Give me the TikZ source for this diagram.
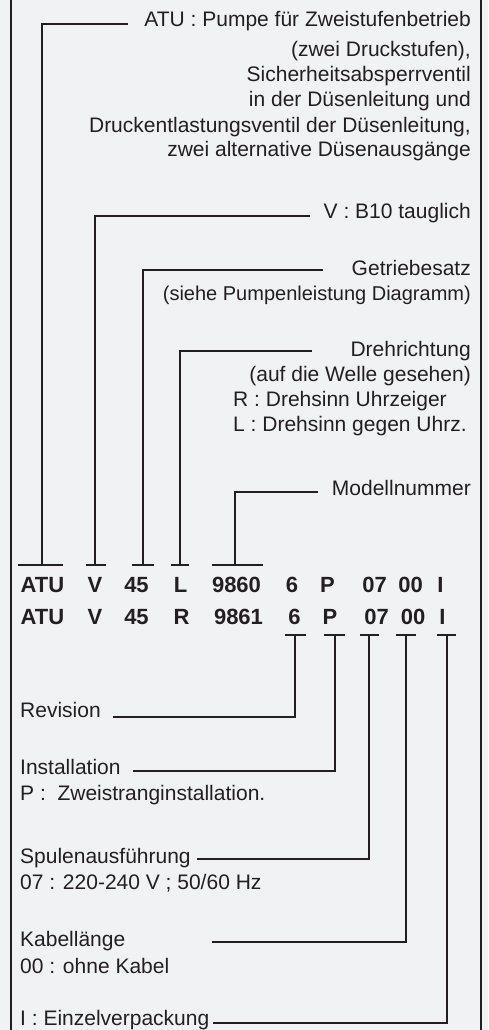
\documentclass[tikz,border=0pt]{standalone}
\usepackage{fontspec}
\setmainfont{Liberation Sans}
\definecolor{ink}{HTML}{231F20}
\definecolor{bg}{HTML}{F1F2F4}
\begin{document}
\begin{tikzpicture}[x=1pt,y=-1pt,
  lbl/.style={inner sep=0pt, text=ink, font=\fontsize{21}{25}\selectfont},
  lblr/.style={lbl, anchor=base east},
  lbll/.style={lbl, anchor=base west},
  code/.style={inner sep=0pt, text=ink, anchor=base, font=\fontsize{22}{26}\selectfont\bfseries},
  conn/.style={draw=ink, line width=2pt},
  frameline/.style={draw=ink, line width=2.4pt}]
\fill[bg] (0,0) rectangle (488,1030);
\useasboundingbox (0,0) rectangle (488,1030);
\draw[frameline] (11,0) -- (11,1030);
\draw[frameline] (481,0) -- (481,1030);

% top labels
\node[lblr] (atu1) at (471,27) {ATU : Pumpe für Zweistufenbetrieb};
\node[lblr] (atu2) at (471,57) {(zwei Druckstufen),};
\node[lblr] (atu3) at (471,82) {Sicherheitsabsperrventil};
\node[lblr] (atu4) at (471,107) {in der Düsenleitung und};
\node[lblr] (atu5) at (471,132) {Druckentlastungsventil der Düsenleitung,};
\node[lblr] (atu6) at (471,157) {zwei alternative Düsenausgänge};
\node[lblr] (v1) at (471,218) {V : B10 tauglich};
\node[lblr] (g1) at (471,275) {Getriebesatz};
\node[lblr, font=\fontsize{20}{25}\selectfont] (g2) at (471,300) {(siehe Pumpenleistung Diagramm)};
\node[lblr] (d1) at (471,356.5) {Drehrichtung};
\node[lblr] (d2) at (471,381.5) {(auf die Welle gesehen)};
\node[lbll] (d3) at (233,406.5) {R : Drehsinn Uhrzeiger};
\node[lbll] (d4) at (233,431.5) {L : Drehsinn gegen Uhrz.};
\node[lblr] (m1) at (471,495) {Modellnummer};

% code rows
\node[code] (r1a) at (42.5,592) {ATU};
\node[code] (r1b) at (95,592) {V};
\node[code] (r1c) at (136.5,592) {45};
\node[code] (r1d) at (180.5,592) {L};
\node[code] (r1e) at (236.5,592) {9860};
\node[code] (r1f) at (292,592) {6};
\node[code] (r1g) at (327.5,592) {P};
\node[code] (r1h) at (374.5,592) {07};
\node[code] (r1i) at (410.5,592) {00};
\node[code] (r1j) at (440.5,592) {I};
\node[code] (r2a) at (42.5,624) {ATU};
\node[code] (r2b) at (95,624) {V};
\node[code] (r2c) at (136.5,624) {45};
\node[code] (r2d) at (181.5,624) {R};
\node[code] (r2e) at (238.5,624) {9861};
\node[code] (r2f) at (294.5,624) {6};
\node[code] (r2g) at (330,624) {P};
\node[code] (r2h) at (376.5,624) {07};
\node[code] (r2i) at (413,624) {00};
\node[code] (r2j) at (442.5,624) {I};

% bottom labels
\node[lbll] (rev) at (20,717) {Revision};
\node[lbll] (ins1) at (20,774) {Installation};
\node[lbll] (ins2) at (20,800) {P :\ \ Zweistranginstallation.};
\node[lbll] (sp1) at (20,863) {Spulenausführung};
\node[lbll] (sp2) at (20,889) {07 : 220-240 V ; 50/60 Hz};
\node[lbll] (kb1) at (20,946.5) {Kabellänge};
\node[lbll] (kb2) at (20,973) {00 : ohne Kabel};
\node[lbll] (ez) at (20,1025.5) {I : Einzelverpackung};

% top connectors
\coordinate (cATU) at (128,24);  \coordinate (tATU) at (42,565);
\coordinate (bATUl) at (18,565); \coordinate (bATUr) at (63,565);
\coordinate (cV) at (310,216);   \coordinate (tV) at (95,565);
\coordinate (bVl) at (86,565);   \coordinate (bVr) at (106,565);
\coordinate (cG) at (323,270);   \coordinate (tG) at (143,565);
\coordinate (bGl) at (132,565);  \coordinate (bGr) at (154,565);
\coordinate (cD) at (312,351);   \coordinate (tD) at (180,565);
\coordinate (bDl) at (171,565);  \coordinate (bDr) at (189,565);
\coordinate (cM) at (318,492);   \coordinate (tM) at (235,565);
\coordinate (bMl) at (212,565);  \coordinate (bMr) at (263,565);
\draw[conn] (cATU) -| (tATU);  \draw[conn] (bATUl) -- (bATUr);
\draw[conn] (cV) -| (tV);      \draw[conn] (bVl) -- (bVr);
\draw[conn] (cG) -| (tG);      \draw[conn] (bGl) -- (bGr);
\draw[conn] (cD) -| (tD);      \draw[conn] (bDl) -- (bDr);
\draw[conn] (cM) -| (tM);      \draw[conn] (bMl) -- (bMr);

% bottom connectors
\coordinate (t6) at (295,635);  \coordinate (c6) at (113,717);
\coordinate (b6l) at (285,635); \coordinate (b6r) at (306,635);
\coordinate (tP) at (335,635);  \coordinate (cP) at (133,771);
\coordinate (bPl) at (324,635); \coordinate (bPr) at (345,635);
\coordinate (t07) at (369,635); \coordinate (c07) at (197,859);
\coordinate (b07l) at (360,635); \coordinate (b07r) at (379,635);
\coordinate (t00) at (406,635); \coordinate (c00) at (212,942);
\coordinate (b00l) at (396,635); \coordinate (b00r) at (416,635);
\coordinate (tI) at (447,635);  \coordinate (cI) at (213,1023);
\coordinate (bIl) at (437,635); \coordinate (bIr) at (456,635);
\draw[conn] (t6) |- (c6);   \draw[conn] (b6l) -- (b6r);
\draw[conn] (tP) |- (cP);   \draw[conn] (bPl) -- (bPr);
\draw[conn] (t07) |- (c07); \draw[conn] (b07l) -- (b07r);
\draw[conn] (t00) |- (c00); \draw[conn] (b00l) -- (b00r);
\draw[conn] (tI) |- (cI);   \draw[conn] (bIl) -- (bIr);
\end{tikzpicture}
\end{document}
